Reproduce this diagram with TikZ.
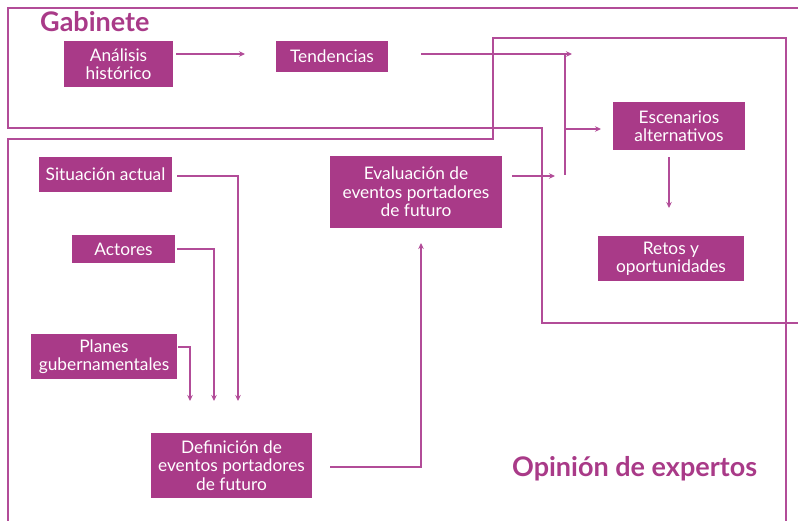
\documentclass[tikz,border=0pt]{standalone}
\usepackage{fontspec}
\setmainfont{Lato}
\usetikzlibrary{arrows.meta}
\definecolor{boxfill}{RGB}{169,58,136}
\definecolor{linec}{RGB}{178,76,152}
\definecolor{titlec}{RGB}{169,58,136}
\tikzset{
  box/.style={fill=boxfill, text=white, inner sep=0pt, align=center,
    font=\fontsize{17.3}{18.4}\selectfont},
  frame/.style={draw=linec, line width=1.4pt},
  conn/.style={draw=linec, line width=1.4pt},
  arr/.style={conn, -{Stealth[length=6pt,width=5.5pt]}},
  title/.style={text=titlec, font=\fontsize{27}{30}\bfseries\selectfont, inner sep=0pt, anchor=base west}
}
\begin{document}
\begin{tikzpicture}[x=1pt,y=-1pt]
\useasboundingbox (0,0) rectangle (798,520);
\fill[white] (0,0) rectangle (798,520);
% frames
\draw[frame] (800,8) -- (8,8) -- (8,128) -- (542,128) -- (542,323) -- (800,323);
\draw[frame] (8,522) -- (8,139) -- (493,139) -- (493,38) -- (786,38) -- (786,522);
% titles
\node[title] (gab) at (40,31) {Gabinete};
\node[title] (opi) at (512,476) {Opinión de expertos};
% boxes
\node[box, minimum width=109pt, minimum height=46pt] (ana) at (118.5,64) {Análisis\\histórico};
\node[box, minimum width=112pt, minimum height=31pt] (ten) at (332,56.5) {Tendencias};
\node[box, minimum width=133pt, minimum height=35pt] (sit) at (105.5,174.5) {Situación actual};
\node[box, minimum width=172pt, minimum height=72pt] (eva) at (416,192) {Evaluación de\\eventos portadores\\de futuro};
\node[box, minimum width=132pt, minimum height=48pt] (esc) at (679,126) {Escenarios\\alternativos};
\node[box, minimum width=146pt, minimum height=45pt] (ret) at (671,258.5) {Retos y\\oportunidades};
\node[box, minimum width=103pt, minimum height=28pt] (act) at (123.5,249) {Actores};
\node[box, minimum width=146pt, minimum height=45pt] (pla) at (104,356.5) {Planes\\gubernamentales};
\node[box, minimum width=161pt, minimum height=65pt] (def) at (231.5,465.5) {Definición de\\eventos portadores\\de futuro};
% coordinates
\coordinate (anaE) at (176,54);
\coordinate (tenT) at (245,54);
\coordinate (tenE) at (421,54);
\coordinate (tenJ) at (565,54);
\coordinate (tenTip) at (572,54);
\coordinate (junB) at (565,175);
\coordinate (junM) at (565,129);
\coordinate (escT) at (601,129);
\coordinate (evaE) at (512,176);
\coordinate (evaT) at (555,176);
\coordinate (escS) at (669,157);
\coordinate (retT) at (669,208);
\coordinate (sitE) at (177,176);
\coordinate (sitC) at (238,176);
\coordinate (sitT) at (238,401);
\coordinate (actE) at (177,249);
\coordinate (actC) at (214,249);
\coordinate (actT) at (214,401);
\coordinate (plaE) at (178,347);
\coordinate (plaC) at (190,347);
\coordinate (plaT) at (190,401);
\coordinate (defE) at (330,467);
\coordinate (defC) at (421,467);
\coordinate (evaT2) at (421,243);
% connectors
\draw[arr] (anaE) -- (tenT);
\draw[arr] (tenE) -- (tenTip);
\draw[conn] (tenJ) -- (junB);
\draw[arr] (junM) -- (escT);
\draw[arr] (evaE) -- (evaT);
\draw[arr] (escS) -- (retT);
\draw[arr] (sitE) -- (sitC) -- (sitT);
\draw[arr] (actE) -- (actC) -- (actT);
\draw[arr] (plaE) -- (plaC) -- (plaT);
\draw[arr] (defE) -- (defC) -- (evaT2);
\end{tikzpicture}
\end{document}
